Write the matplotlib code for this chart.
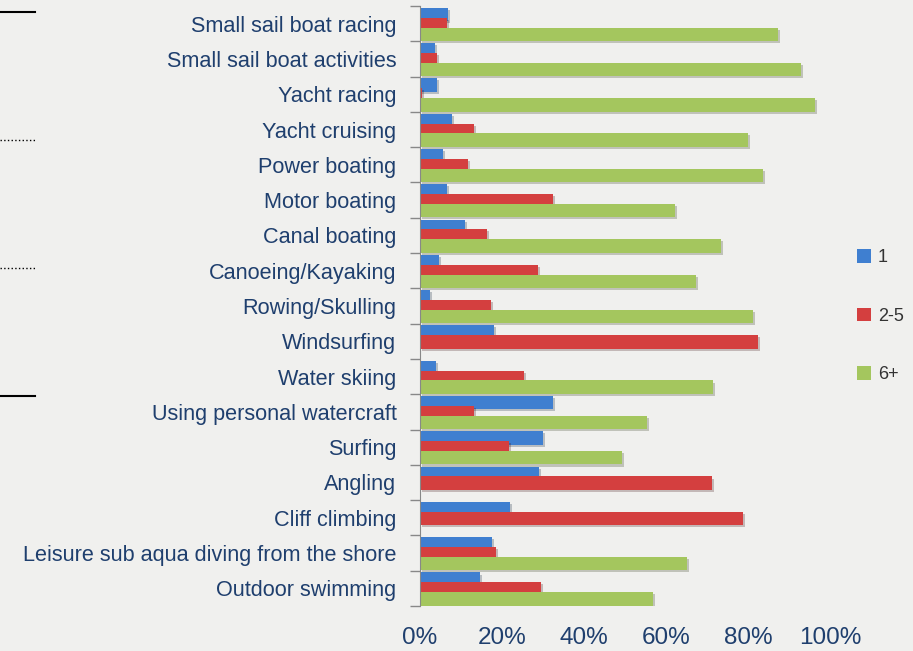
import numpy as np
import matplotlib
matplotlib.use("Agg")
import matplotlib.pyplot as plt
from matplotlib.lines import Line2D
from matplotlib.patches import Patch
import matplotlib.patheffects as pe

# data (share of participants, %)
activities = ['Small sail boat racing', 'Small sail boat activities', 'Yacht racing',
              'Yacht cruising', 'Power boating', 'Motor boating', 'Canal boating',
              'Canoeing/Kayaking', 'Rowing/Skulling', 'Windsurfing', 'Water skiing',
              'Using personal watercraft', 'Surfing', 'Angling', 'Cliff climbing',
              'Leisure sub aqua diving from the shore', 'Outdoor swimming']
group_1 = [6.9, 3.7, 4.1, 7.8, 5.6, 6.5, 11.0, 4.7, 2.5, 18.0, 3.9, 32.4, 30.1, 29.1, 21.9, 17.6, 14.7]
group_2_5 = [6.5, 4.1, 0.4, 13.1, 11.6, 32.4, 16.3, 28.8, 17.2, 82.5, 25.4, 13.1, 21.7, 71.2, 78.8, 18.5, 29.5]
group_6_plus = [87.2, 93.0, 96.4, 80.1, 83.6, 62.1, 73.4, 67.4, 81.3, 0, 71.5, 55.4, 49.2, 0, 0, 65.0, 56.8]
series_names = ['1', '2-5', '6+']
xticks = [0, 20, 40, 60, 80, 100]

colors = ['#3F7FD0', '#D43F3F', '#A4C65E']
bg = '#F0F0EE'
label_col = '#1F3F6E'

plt.rcParams['font.family'] = ['Liberation Sans', 'DejaVu Sans']

fig = plt.figure(figsize=(9.13, 6.51), dpi=100, facecolor=bg)
ax = fig.add_axes([420 / 913, 1 - 606 / 651, 410 / 913, 600 / 651])
ax.set_facecolor(bg)

y = np.arange(len(activities))
offsets = [-0.26, 0.02, 0.30]
shadow = [pe.SimplePatchShadow(offset=(1.5, -1.5), alpha=0.25), pe.Normal()]
for vals, off, col in zip([group_1, group_2_5, group_6_plus], offsets, colors):
    bars = ax.barh(y + off, np.array(vals) / 100, height=0.38, color=col, zorder=2)
    for b in bars:
        if b.get_width() > 0:
            b.set_path_effects(shadow)

ax.set_ylim(len(activities) - 0.5, -0.5)
ax.set_xlim(0, 1.0)

ax.set_yticks(y)
ax.set_yticklabels(activities, fontsize=15.6, color=label_col)
ax.tick_params(axis='y', which='major', length=0, pad=17)
ax.set_yticks(np.arange(-0.5, len(activities)), minor=True)
ax.tick_params(axis='y', which='minor', length=7, color='#888888', width=1)

ax.set_xticks(np.array(xticks) / 100)
ax.set_xticklabels([f'{t}%' for t in xticks], fontsize=17.5, color=label_col)
ax.tick_params(axis='x', length=0, pad=15)

for s in ['top', 'right', 'bottom']:
    ax.spines[s].set_visible(False)
ax.spines['left'].set_color('#888888')

handles = [Patch(facecolor=c, edgecolor='none') for c in colors]
fig.legend(handles, series_names, loc='upper left', bbox_to_anchor=(841 / 913, 1 - 233 / 651),
           frameon=False, fontsize=13, labelcolor='#333333', handlelength=0.75, handleheight=0.75,
           handletextpad=0.4, labelspacing=2.3)

# stray rule marks on the left edge of the source picture
for yy, ls in [(12, '-'), (140, ':'), (268, ':'), (396, '-')]:
    fig.add_artist(Line2D([0, 35 / 913], [1 - yy / 651] * 2, color='black',
                          lw=1.5 if ls == '-' else 1, ls=ls, transform=fig.transFigure))

fig.savefig('out.png', dpi=100, facecolor=bg)
